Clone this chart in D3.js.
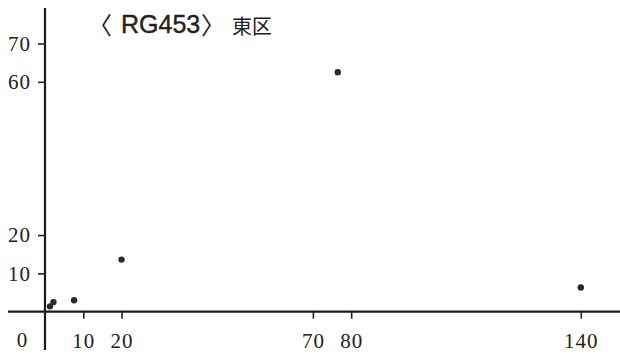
<!DOCTYPE html>
<html><head><meta charset="utf-8">
<script src="https://cdn.jsdelivr.net/npm/d3@7"></script>
<style>body{margin:0;background:#fff}svg{display:block}</style>
</head><body>
<script>
const xValues = [1.3, 2.2, 7.6, 20, 76.5, 140];
const yValues = [1.4, 2.5, 3.0, 13.6, 62.5, 6.3];
const xTicks = [10, 20, 70, 80, 140];
const yTicks = [10, 20, 60, 70];
const titleParts = ["〈", "RG453", "〉"];
const subtitle = "東区";

const W = 620, H = 357;
const svg = d3.select("body").append("svg").attr("width", W).attr("height", H);
const x = d3.scaleLinear().domain([0, 140]).range([45, 580.8]);
const y = d3.scaleLinear().domain([0, 70]).range([311.7, 43.5]);

// axes lines
svg.append("line").attr("x1", 8).attr("x2", 620).attr("y1", y(0)).attr("y2", y(0))
  .attr("stroke", "#1a1a1a").attr("stroke-width", 2.2);
svg.append("line").attr("x1", x(0)).attr("x2", x(0)).attr("y1", 8).attr("y2", 350)
  .attr("stroke", "#1a1a1a").attr("stroke-width", 2.2);

const xAxis = d3.axisBottom(x).tickValues(xTicks).tickSize(7).tickPadding(14).tickFormat(d3.format("d"));
const gx = svg.append("g").attr("transform", `translate(0,${y(0)})`).call(xAxis);
gx.select(".domain").remove();
gx.selectAll(".tick line").attr("stroke", "#222").attr("stroke-width", 1.6);
gx.selectAll(".tick text").attr("font-family", "Liberation Serif, serif").attr("font-size", 21)
  .attr("letter-spacing", 1).attr("fill", "#222");
// zero label left of y axis
svg.append("text").attr("x", 22).attr("y", 347).attr("text-anchor", "middle")
  .attr("font-family", "Liberation Serif, serif").attr("font-size", 21).attr("fill", "#222").text("0");

const yAxis = d3.axisLeft(y).tickValues(yTicks).tickSize(7).tickPadding(7).tickFormat(d3.format("d"));
const gy = svg.append("g").attr("transform", `translate(${x(0)},0)`).call(yAxis);
gy.select(".domain").remove();
gy.selectAll(".tick line").attr("stroke", "#222").attr("stroke-width", 1.6);
gy.selectAll(".tick text").attr("font-family", "Liberation Serif, serif").attr("font-size", 21)
  .attr("letter-spacing", 1).attr("fill", "#222");

// points
svg.append("g").selectAll("circle").data(xValues.map((v, i) => [v, yValues[i]])).join("circle")
  .attr("cx", d => x(d[0])).attr("cy", d => y(d[1])).attr("r", 3.2).attr("fill", "#2a2a2a");

// title
const tg = svg.append("g").attr("fill", "#222");
tg.append("text").attr("x", 88).attr("y", 34).attr("font-family", "Noto Sans CJK JP, sans-serif")
  .attr("font-size", 24).text(titleParts[0]);
tg.append("text").attr("x", 121).attr("y", 33).attr("font-family", "Liberation Sans, Arial, sans-serif")
  .attr("font-size", 25).attr("stroke", "#222").attr("stroke-width", 0.4).text(titleParts[1]);
tg.append("text").attr("x", 201).attr("y", 34).attr("font-family", "Noto Sans CJK JP, sans-serif")
  .attr("font-size", 24).text(titleParts[2]);
tg.append("text").attr("x", 232).attr("y", 34).attr("font-family", "Noto Sans CJK JP, sans-serif")
  .attr("font-size", 20).text(subtitle);
</script>
</body></html>
